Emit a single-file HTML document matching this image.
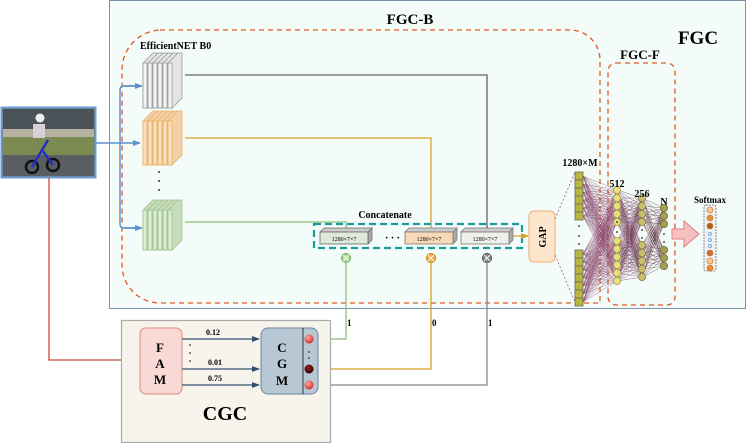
<!DOCTYPE html>
<html><head><meta charset="utf-8"><style>
html,body{margin:0;padding:0;background:#fff;}
svg{display:block;font-family:"Liberation Serif",serif;}
</style></head><body>
<svg id="s" width="747" height="443" viewBox="0 0 747 443" xmlns="http://www.w3.org/2000/svg">
<defs>
<marker id="ab" markerWidth="8" markerHeight="8" refX="7" refY="4" orient="auto" markerUnits="userSpaceOnUse"><path d="M0,1 L8,4 L0,7 Z" fill="#5b8fd0"/></marker>
<marker id="an" markerWidth="8" markerHeight="8" refX="7" refY="4" orient="auto" markerUnits="userSpaceOnUse"><path d="M0,1 L8,4 L0,7 Z" fill="#34506e"/></marker>
<marker id="ao" markerWidth="8" markerHeight="8" refX="7" refY="4" orient="auto" markerUnits="userSpaceOnUse"><path d="M0,1 L8,4 L0,7 Z" fill="#e0a020"/></marker>
<radialGradient id="rd" cx="0.4" cy="0.35" r="0.7"><stop offset="0" stop-color="#ffb0a0"/><stop offset="1" stop-color="#d62020"/></radialGradient>
<radialGradient id="dk" cx="0.4" cy="0.35" r="0.7"><stop offset="0" stop-color="#a02020"/><stop offset="1" stop-color="#200000"/></radialGradient>
</defs>
<rect x="109.5" y="0.5" width="636" height="308" fill="#f3fcf8" stroke="#7d93a8" stroke-width="1"/>
<text x="410" y="24" font-size="15" font-weight="bold" text-anchor="middle">FGC-B</text>
<text x="698" y="44" font-size="19" font-weight="bold" text-anchor="middle">FGC</text>
<text x="640" y="59" font-size="13" font-weight="bold" text-anchor="middle">FGC-F</text>
<path d="M160,30 H570 A30,30 0 0 1 600,60 V303 H160 A38,38 0 0 1 122,265 V70 A40,40 0 0 1 160,30 Z" fill="none" stroke="#e05a20" stroke-width="1.3" stroke-dasharray="5,4"/>
<rect x="608" y="63" width="67" height="242" rx="8" fill="none" stroke="#e05a20" stroke-width="1.3" stroke-dasharray="5,4"/>
<text x="140" y="49" font-size="10" font-weight="bold">EfficientNET B0</text>
<!-- image -->
<rect x="1.5" y="107.5" width="94" height="70" fill="#6b7a6a" stroke="#6a9bd8" stroke-width="2"/>
<rect x="3" y="109" width="91" height="20" fill="#4a5258"/>
<rect x="3" y="129" width="91" height="8" fill="#b8b0a0"/>
<rect x="3" y="137" width="91" height="18" fill="#7a8a50"/>
<rect x="3" y="155" width="91" height="21" fill="#5a5e62"/>
<circle cx="40" cy="118" r="4.5" fill="#eeeeee"/>
<rect x="33" y="124" width="12" height="14" fill="#d8d0d8"/>
<circle cx="32" cy="167" r="6" fill="none" stroke="#111" stroke-width="2.5"/>
<circle cx="53" cy="165" r="6" fill="none" stroke="#111" stroke-width="2.5"/>
<path d="M32,167 L42,150 L53,165 M42,150 L48,140" stroke="#2030c0" stroke-width="2.5" fill="none"/>
<path d="M96,143 H140" stroke="#5b8fd0" stroke-width="1.4" fill="none" marker-end="url(#ab)"/>
<path d="M140,86 H124 Q120,86 120,90 V224 Q120,228 124,228 H140" stroke="#5b8fd0" stroke-width="1.4" fill="none"/>
<path d="M124,86 H142" stroke="#5b8fd0" stroke-width="1.4" marker-end="url(#ab)"/>
<path d="M124,228 H142" stroke="#5b8fd0" stroke-width="1.4" marker-end="url(#ab)"/>
<path d="M49,178 V360 H122" stroke="#c84a3a" stroke-width="1.3" fill="none"/>
<g id="stacks"></g>
<circle cx="159" cy="172" r="1" fill="#333"/><circle cx="159" cy="181" r="1" fill="#333"/><circle cx="159" cy="190" r="1" fill="#333"/>
<path d="M185,75 H487 V230" stroke="#666" stroke-width="1.3" fill="none"/>
<path d="M185,138 H431 V230" stroke="#e0a020" stroke-width="1.3" fill="none"/>
<path d="M185,222 H346 V230" stroke="#8cc07a" stroke-width="1.3" fill="none"/>
<text x="385" y="218" font-size="10" font-weight="bold" text-anchor="middle">Concatenate</text>
<rect x="314" y="224" width="208" height="24" fill="none" stroke="#1a9a9a" stroke-width="2.2" stroke-dasharray="7,4"/>
<g id="blocks"></g>
<text x="385" y="241" font-size="10" font-weight="bold">·  ·  ·</text>
<path d="M513,236 H528" stroke="#e0a020" stroke-width="1.2" marker-end="url(#ao)"/>
<rect x="529" y="211" width="26" height="51" rx="5" fill="#fde6cc" stroke="#efb070"/>
<text transform="translate(546,237) rotate(-90)" font-size="10" font-weight="bold" text-anchor="middle">GAP</text>
<path d="M555,219 L575,172 M555,255 L575,302" stroke="#9a4a5a" stroke-width="0.7" stroke-dasharray="2,2"/>
<g id="mult"></g>
<path d="M346,262 V339 H311" stroke="#8cc07a" stroke-width="1.3" fill="none"/>
<path d="M431,262 V369 H311" stroke="#d8a020" stroke-width="1.3" fill="none"/>
<path d="M487,262 V385 H311" stroke="#888" stroke-width="1.3" fill="none"/>
<text x="347" y="326" font-size="9" font-weight="bold">1</text>
<text x="432" y="326" font-size="9" font-weight="bold">0</text>
<text x="488" y="326" font-size="9" font-weight="bold">1</text>
<g id="fc"></g>
<text x="580" y="166" font-size="10" font-weight="bold" text-anchor="middle">1280×M</text>
<text x="617" y="187" font-size="10" font-weight="bold" text-anchor="middle">512</text>
<text x="642" y="197" font-size="10" font-weight="bold" text-anchor="middle">256</text>
<text x="664" y="205" font-size="10" font-weight="bold" text-anchor="middle">N</text>
<text x="710" y="203" font-size="9" font-weight="bold" text-anchor="middle">Softmax</text>
<path d="M672,229 H684 V221 L699,234 L684,247 V239 H672 Z" fill="#f7c0c0" stroke="#e08080"/>
<rect x="704" y="205" width="12" height="66" rx="2" fill="#eef2f4" stroke="#888" stroke-dasharray="2,1"/>
<g id="soft"></g>
<rect x="121.5" y="320.5" width="209" height="122" fill="#f7f4ec" stroke="#aaa" stroke-width="1.2"/>
<rect x="140" y="328" width="42" height="66" rx="6" fill="#f9d9d6" stroke="#e08a80"/>
<text x="160" y="352" font-size="13" font-weight="bold" text-anchor="middle">F</text>
<text x="160" y="368" font-size="13" font-weight="bold" text-anchor="middle">A</text>
<text x="160" y="384" font-size="13" font-weight="bold" text-anchor="middle">M</text>
<rect x="261" y="328" width="57" height="66" rx="7" fill="#b8c7d4" stroke="#6a85a0"/>
<line x1="303" y1="328" x2="303" y2="394" stroke="#333"/>
<text x="282" y="352" font-size="13" font-weight="bold" text-anchor="middle">C</text>
<text x="282" y="368" font-size="13" font-weight="bold" text-anchor="middle">G</text>
<text x="282" y="385" font-size="13" font-weight="bold" text-anchor="middle">M</text>
<circle cx="309" cy="339" r="4.5" fill="url(#rd)"/>
<circle cx="309" cy="369" r="4.5" fill="url(#dk)"/>
<circle cx="309" cy="385" r="4.5" fill="url(#rd)"/>
<circle cx="309" cy="352" r="0.9" fill="#333"/><circle cx="309" cy="358" r="0.9" fill="#333"/>
<path d="M182,339 H259" stroke="#34506e" stroke-width="1.2" marker-end="url(#an)"/>
<path d="M182,369 H259" stroke="#34506e" stroke-width="1.2" marker-end="url(#an)"/>
<path d="M182,385 H259" stroke="#34506e" stroke-width="1.2" marker-end="url(#an)"/>
<text x="213" y="335" font-size="8" font-weight="bold" text-anchor="middle">0.12</text>
<text x="215" y="365" font-size="8" font-weight="bold" text-anchor="middle">0.01</text>
<text x="215" y="381" font-size="8" font-weight="bold" text-anchor="middle">0.75</text>
<circle cx="190" cy="345" r="0.9" fill="#333"/><circle cx="190" cy="353" r="0.9" fill="#333"/><circle cx="190" cy="361" r="0.9" fill="#333"/>
<text x="225" y="420" font-size="20" font-weight="bold" text-anchor="middle">CGC</text>
</svg>
<script>
var NS="http://www.w3.org/2000/svg";
function el(p,t,a){var e=document.createElementNS(NS,t);for(var k in a)e.setAttribute(k,a[k]);document.getElementById(p).appendChild(e);return e;}
[[53,108,"#f4f4f4","#e4e4e4","#999"],[111,165,"#fbe0c0","#f4d0a8","#eab060"],[200,250,"#dcecd4","#c8dcbc","#9cc48c"]].forEach(function(s){
 var top=s[0],bot=s[1];
 for(var i=0;i<6;i++){var x=143+i*5;
  el("stacks","path",{d:"M"+x+","+(top+10)+" L"+(x+10)+","+top+" L"+(x+14)+","+top+" L"+(x+14)+","+(bot-10)+" L"+(x+4)+","+bot+" L"+x+","+bot+" Z",fill:s[3],stroke:s[4],"stroke-width":0.8});
  el("stacks","rect",{x:x,y:top+10,width:4,height:bot-top-10,fill:s[2],stroke:s[4],"stroke-width":0.8});
 }
});
[[320,"#dfe8da","#666"],[405,"#f7d9b8","#777"],[461,"#eef0ec","#777"]].forEach(function(b){
 el("blocks","path",{d:"M"+b[0]+",232 l4,-4 h48 l-4,4 z",fill:"#ccc",stroke:b[2],"stroke-width":0.7});
 el("blocks","path",{d:"M"+(b[0]+48)+",232 l4,-4 v12 l-4,4 z",fill:"#aaa",stroke:b[2],"stroke-width":0.7});
 el("blocks","rect",{x:b[0],y:232,width:48,height:12,fill:b[1],stroke:b[2],"stroke-width":0.8});
 var t=el("blocks","text",{x:b[0]+24,y:241,"font-size":6,"text-anchor":"middle"});t.textContent="1280×7×7";
});
[[346,"#a8d890","#70a860"],[431,"#f0b040","#c08020"],[487,"#888","#444"]].forEach(function(m){
 el("mult","circle",{cx:m[0],cy:258,r:4.5,fill:m[1],stroke:m[2]});
 el("mult","path",{d:"M"+(m[0]-3)+",255 l6,6 M"+(m[0]+3)+",255 l-6,6",stroke:"#fff","stroke-width":0.9});
});
var c0=[],c1=[],c2=[],c3=[];
for(var i=0;i<6;i++)c0.push(176+i*8);for(var i=0;i<7;i++)c0.push(254+i*8);
for(var i=0;i<5;i++)c1.push(190+i*8);for(var i=0;i<6;i++)c1.push(241+i*8);
for(var i=0;i<4;i++)c2.push(198+i*8);for(var i=0;i<5;i++)c2.push(245+i*8);
for(var i=0;i<3;i++)c3.push(208+i*8);for(var i=0;i<3;i++)c3.push(250+i*8);
function conn(a,xa,b,xb,col){a.forEach(function(y1){b.forEach(function(y2){el("fc","line",{x1:xa,y1:y1,x2:xb,y2:y2,stroke:col,"stroke-width":0.5,"stroke-opacity":0.7});});});}
conn(c0,583,c1,617,"#8a4a70");conn(c1,617,c2,642,"#6a3050");conn(c2,642,c3,664,"#5a2a40");
c0.forEach(function(y){el("fc","rect",{x:575,y:y-4,width:8,height:8,fill:"#b8b840",stroke:"#666","stroke-width":0.8});});
[[c1,617,"#e8e080","#a8a040"],[c2,642,"#c8c070","#888040"],[c3,664,"#a0a050","#707030"]].forEach(function(c){
 c[0].forEach(function(y){el("fc","circle",{cx:c[1],cy:y,r:3.6,fill:c[2],stroke:c[3],"stroke-width":0.8});});});
[[579,226],[579,236],[579,244],[617,232],[617,222],[642,230],[642,238],[664,234],[664,242]].forEach(function(p){el("fc","circle",{cx:p[0],cy:p[1],r:0.9,fill:"#222"});});
[[210,"#fbc890",3],[218,"#e89040",3],[226,"#b06020",3],[234,"#cfe4f4",1.6],[240,"#cfe4f4",1.6],[246,"#cfe4f4",1.6],[253,"#d07030",3],[261,"#fbc890",3],[268,"#f08a30",3]].forEach(function(s){
 el("soft","circle",{cx:710,cy:s[0],r:s[2],fill:s[1],stroke:s[2]<2?"#4a90d0":"#c07030","stroke-width":0.6});});
</script>
</body></html>
